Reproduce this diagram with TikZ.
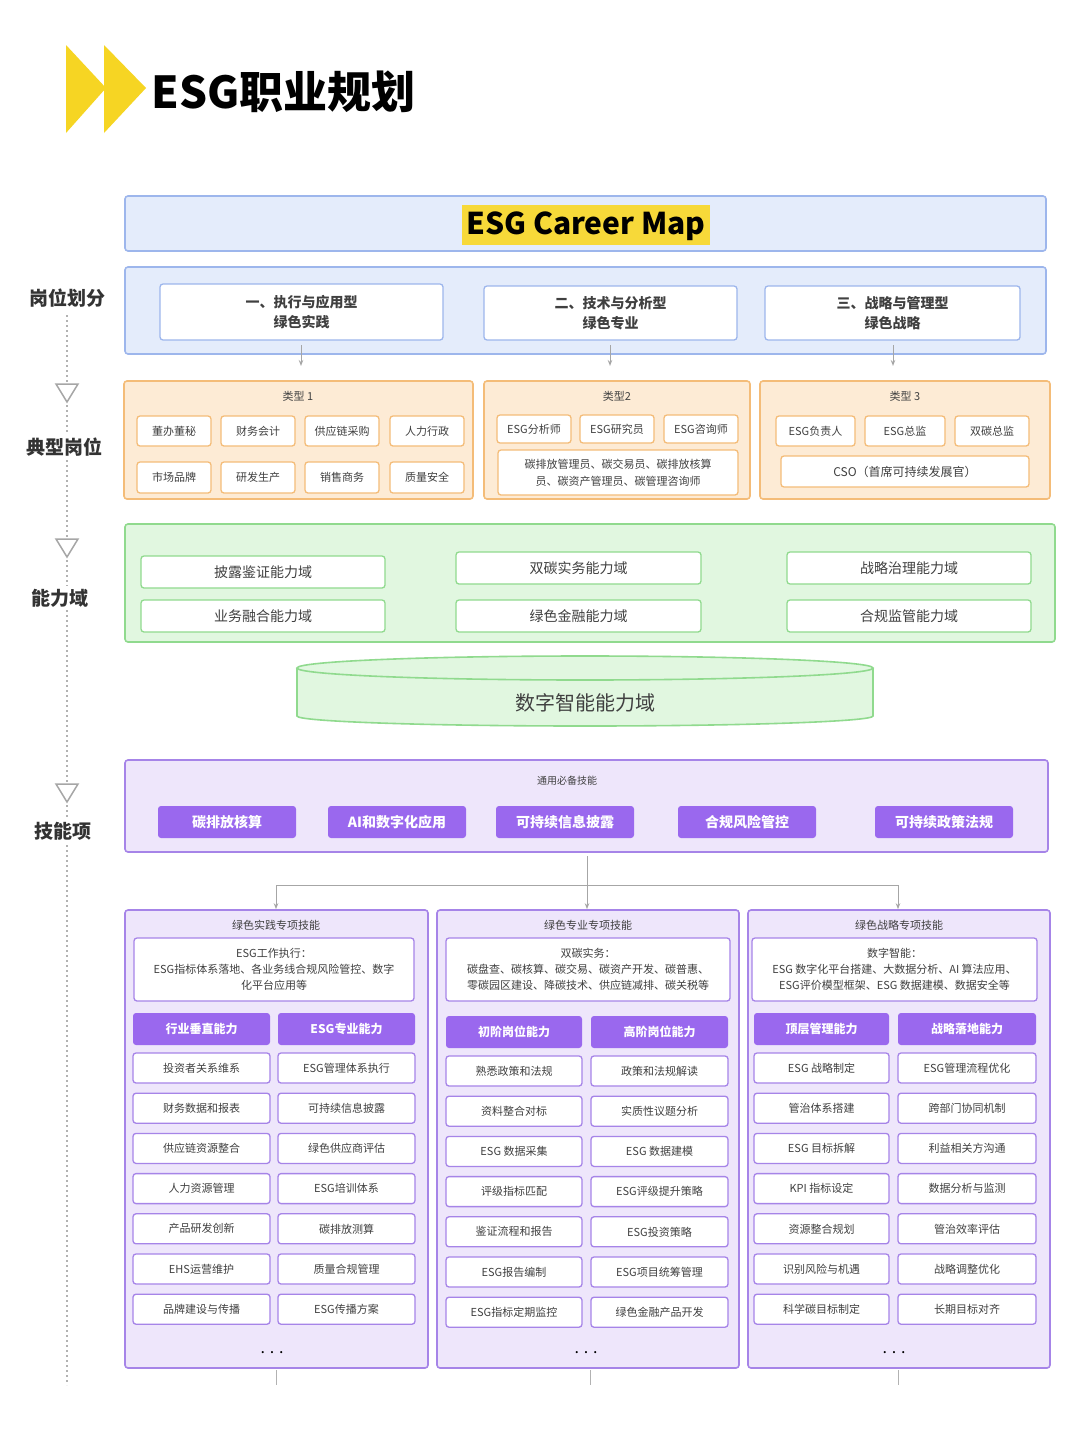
\documentclass[tikz,border=0pt]{standalone}
\usepackage{fontspec}
\setmainfont{Noto Sans CJK SC}
\usetikzlibrary{arrows.meta,shapes.geometric}
\definecolor{bfill}{HTML}{E4ECFB}\definecolor{bline}{HTML}{9DB6EC}
\definecolor{ofill}{HTML}{FDEBD5}\definecolor{oline}{HTML}{F4BC78}
\definecolor{gfill}{HTML}{E1F7E0}\definecolor{gline}{HTML}{90DA8E}
\definecolor{pfill}{HTML}{EEE6FB}\definecolor{pline}{HTML}{A684E8}
\definecolor{pbtn}{HTML}{9A68EE}\definecolor{ylw}{HTML}{F6D523}
\tikzset{
 frame/.style={draw=#1line,fill=#1fill,line width=1.6pt,rounded corners=3pt},
 wb/.style={draw=#1line,fill=white,line width=1.3pt,rounded corners=3pt,align=center,font=\fontsize{11}{14}\selectfont,text=black!75},
 pb/.style={fill=pbtn,rounded corners=3pt,text=white,font=\fontsize{12}{14}\selectfont\bfseries},
 lab/.style={font=\fontsize{19}{22}\selectfont\bfseries,text=black!80},
 sub/.style={font=\fontsize{11}{13}\selectfont,text=black!75},
 ar/.style={draw=black!35,line width=0.8pt,-{Stealth[length=6pt,open]}},
}
\newcommand\bx[7]{\pgfmathsetmacro\bw{(#4)-(#2)}\pgfmathsetmacro\bh{(#5)-(#3)}%
 \node[#6,minimum width=\bw pt,minimum height=\bh pt,inner sep=1pt] (#1) at ({(#2+#4)/2},{(#3+#5)/2}) {#7};}
\begin{document}
\begin{tikzpicture}[x=1pt,y=-1pt]
\useasboundingbox[fill=white] (0,0) rectangle (1080,1440);
% header
\fill[ylw] (66,45) -- (106,88) -- (66,133) -- cycle;
\fill[ylw] (104,45) -- (146,88) -- (104,133) -- cycle;
\node[anchor=west,font=\fontsize{44}{48}\selectfont\bfseries] (ttl) at (148,92) {ESG职业规划};
% left labels
\draw[black!30,line width=1.5pt,dash pattern=on 2pt off 3pt] (67,315) -- (67,1385);
\foreach \yy in {393,548,793}{\fill[white] (55,\yy-10) rectangle (79,\yy+10);
 \draw[black!35,line width=1.5pt,fill=white] (56,\yy-9) -- (78,\yy-9) -- (67,\yy+9) -- cycle;}
\node[lab,fill=white] (l1) at (67,298) {岗位划分};
\node[lab,fill=white] (l2) at (64,447) {典型岗位};
\node[lab,fill=white] (l3) at (60,598) {能力域};
\node[lab,fill=white] (l4) at (63,831) {技能项};
% title
\bx{tb}{125}{196}{1046}{251}{frame=b}{}
\fill[ylw!90] (462,205) rectangle (710,245);
\node[font=\fontsize{30}{34}\selectfont\bfseries] (tt) at (586,226) {ESG Career Map};
% blue
\bx{bf}{125}{267}{1046}{354}{frame=b}{}
\bx{b1}{160}{284}{443}{340}{wb=b,font=\fontsize{14}{20}\selectfont\bfseries}{一、执行与应用型\\绿色实践}
\bx{b2}{484}{286}{737}{340}{wb=b,font=\fontsize{14}{20}\selectfont\bfseries}{二、技术与分析型\\绿色专业}
\bx{b3}{765}{286}{1020}{340}{wb=b,font=\fontsize{14}{20}\selectfont\bfseries}{三、战略与管理型\\绿色战略}
\foreach \n/\xx in {b1/301,b2/610,b3/893}{\coordinate (\n e) at (\xx,366); \draw[ar] (\xx,345) -- (\n e);}
% orange
\bx{o1}{124}{381}{473}{499}{frame=o}{}
\bx{o2}{484}{381}{750}{499}{frame=o}{}
\bx{o3}{760}{381}{1050}{499}{frame=o}{}
\node[sub] at (298,396) {类型 1};\node[sub] at (617,396) {类型2};\node[sub] at (905,396) {类型 3};
\bx{a1}{137}{416}{211}{446}{wb=o}{董办董秘}\bx{a2}{221}{416}{295}{446}{wb=o}{财务会计}
\bx{a3}{305}{416}{379}{446}{wb=o}{供应链采购}\bx{a4}{390}{416}{464}{446}{wb=o}{人力行政}
\bx{a5}{137}{462}{211}{493}{wb=o}{市场品牌}\bx{a6}{221}{462}{295}{493}{wb=o}{研发生产}
\bx{a7}{305}{462}{379}{493}{wb=o}{销售商务}\bx{a8}{390}{462}{464}{493}{wb=o}{质量安全}
\bx{c1}{497}{415}{571}{443}{wb=o}{ESG分析师}\bx{c2}{580}{415}{654}{443}{wb=o}{ESG研究员}
\bx{c3}{664}{415}{738}{443}{wb=o}{ESG咨询师}
\bx{c4}{498}{450}{738}{495}{wb=o,font=\fontsize{11}{17}\selectfont}{碳排放管理员、碳交易员、碳排放核算\\员、碳资产管理员、碳管理咨询师}
\bx{d1}{776}{416}{855}{446}{wb=o}{ESG负责人}\bx{d2}{865}{416}{945}{446}{wb=o}{ESG总监}
\bx{d3}{955}{416}{1029}{446}{wb=o}{双碳总监}
\bx{d4}{781}{456}{1029}{487}{wb=o,font=\fontsize{12}{14}\selectfont}{CSO（首席可持续发展官）}
% green
\bx{gf}{125}{524}{1055}{642}{frame=g}{}
\tikzset{gb/.style={wb=g,font=\fontsize{14}{16}\selectfont}}
\bx{g1}{141}{556}{385}{588}{gb}{披露鉴证能力域}\bx{g2}{141}{600}{385}{632}{gb}{业务融合能力域}
\bx{g3}{456}{552}{701}{584}{gb}{双碳实务能力域}\bx{g4}{456}{600}{701}{632}{gb}{绿色金融能力域}
\bx{g5}{787}{552}{1031}{584}{gb}{战略治理能力域}\bx{g6}{787}{600}{1031}{632}{gb}{合规监管能力域}
\draw[gline,fill=gfill,line width=1.6pt] (297,668) -- (297,716) arc[start angle=180,end angle=0,x radius=288,y radius=10] -- (873,668);
\draw[gline,fill=gfill,line width=1.6pt] (585,668) ellipse[x radius=288,y radius=12];
\node[font=\fontsize{20}{22}\selectfont,text=black!75] (cyl) at (585,703) {数字智能能力域};
% skills
\bx{sf}{125}{760}{1048}{852}{frame=p}{}
\node[sub,font=\fontsize{10}{12}\selectfont] at (567,781) {通用必备技能};
\tikzset{pbb/.style={pb,font=\fontsize{14}{16}\selectfont\bfseries}}
\bx{s1}{158}{806}{296}{838}{pbb}{碳排放核算}\bx{s2}{328}{806}{466}{838}{pbb}{AI和数字化应用}
\bx{s3}{496}{806}{634}{838}{pbb}{可持续信息披露}\bx{s4}{678}{806}{816}{838}{pbb}{合规风险管控}
\bx{s5}{875}{806}{1013}{838}{pbb}{可持续政策法规}
\coordinate (j0) at (587,856);\coordinate (j1) at (587,885);
\draw[black!35,line width=0.8pt] (j0) -- (j1) (276,885) -- (898,885);
% columns
\bx{k1}{125}{910}{428}{1368}{frame=p}{}
\bx{k2}{437}{910}{739}{1368}{frame=p}{}
\bx{k3}{748}{910}{1050}{1368}{frame=p}{}
\draw[ar] (276,885) -- (k1.north-|276,0);
\draw[ar] (587,885) -- (k2.north-|587,0);
\draw[ar] (898,885) -- (k3.north-|898,0);
\node[sub] at (276,925) {绿色实践专项技能};\node[sub] at (588,925) {绿色专业专项技能};\node[sub] at (899,925) {绿色战略专项技能};
\bx{e1}{134}{938}{414}{1001}{wb=p,font=\fontsize{11}{16}\selectfont}{ESG工作执行：\\ESG指标体系落地、各业务线合规风险管控、数字\\化平台应用等}
\bx{e2}{446}{938}{730}{1001}{wb=p,font=\fontsize{11}{16}\selectfont}{双碳实务：\\碳盘查、碳核算、碳交易、碳资产开发、碳普惠、\\零碳园区建设、降碳技术、供应链减排、碳关税等}
\bx{e3}{752}{938}{1037}{1001}{wb=p,font=\fontsize{11}{16}\selectfont}{数字智能：\\ESG 数字化平台搭建、大数据分析、AI 算法应用、\\ESG评价模型框架、ESG 数据建模、数据安全等}
\bx{h1}{133}{1013}{270}{1045}{pb}{行业垂直能力}\bx{h2}{278}{1013}{415}{1045}{pb}{ESG专业能力}
\bx{h3}{446}{1016}{582}{1048}{pb}{初阶岗位能力}\bx{h4}{591}{1016}{728}{1048}{pb}{高阶岗位能力}
\bx{h5}{754}{1013}{889}{1045}{pb}{顶层管理能力}\bx{h6}{898}{1013}{1036}{1045}{pb}{战略落地能力}
\newcommand\col[5]{\foreach \t [count=\i] in {#5}{\pgfmathsetmacro\yc{#4+(\i-1)*40.2}
 \bx{#1\i}{#2}{\yc-15}{#3}{\yc+15}{wb=p}{\t}}}
\col{pa}{133}{270}{1068}{投资者关系维系,财务数据和报表,供应链资源整合,人力资源管理,产品研发创新,EHS运营维护,品牌建设与传播}
\col{pb}{278}{415}{1068}{ESG管理体系执行,可持续信息披露,绿色供应商评估,ESG培训体系,碳排放测算,质量合规管理,ESG传播方案}
\col{pc}{446}{582}{1071}{熟悉政策和法规,资料整合对标,ESG 数据采集,评级指标匹配,鉴证流程和报告,ESG报告编制,ESG指标定期监控}
\col{pd}{591}{728}{1071}{政策和法规解读,实质性议题分析,ESG 数据建模,ESG评级提升策略,ESG投资策略,ESG项目统筹管理,绿色金融产品开发}
\col{pe}{754}{889}{1068}{ESG 战略制定,管治体系搭建,ESG 目标拆解,KPI 指标设定,资源整合规划,识别风险与机遇,科学碳目标制定}
\col{pf}{898}{1036}{1068}{ESG管理流程优化,跨部门协同机制,利益相关方沟通,数据分析与监测,管治效率评估,战略调整优化,长期目标对齐}
\foreach \xx in {272,586,894}{\node[font=\fontsize{16}{16}\selectfont] at (\xx,1353) {. . .};
 \draw[black!30,line width=0.8pt] (\xx+4,1370) -- (\xx+4,1385);}
\end{tikzpicture}
\end{document}
